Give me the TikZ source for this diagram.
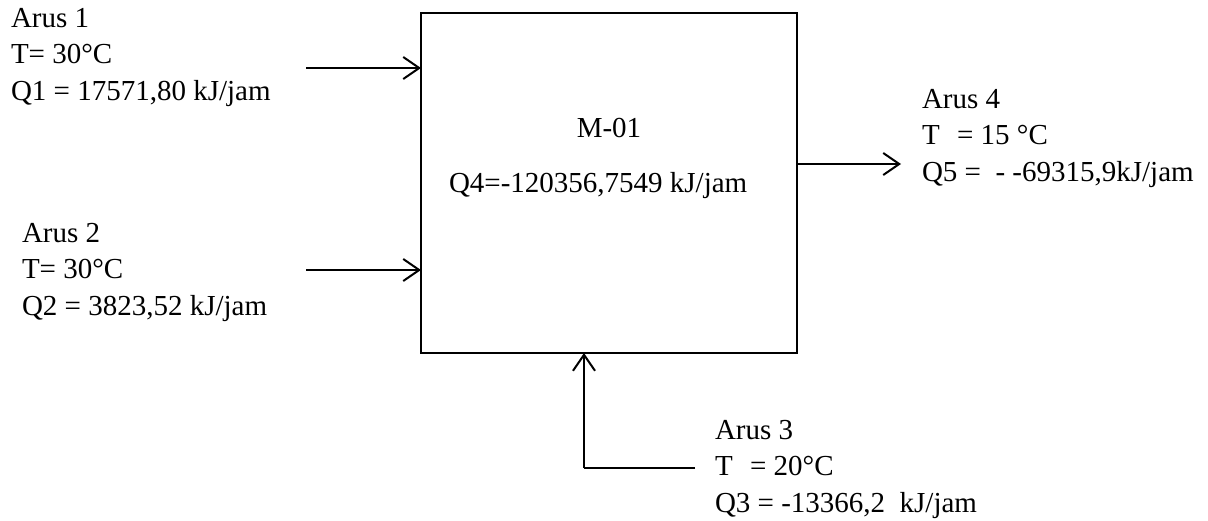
\documentclass[tikz,border=0pt]{standalone}
\usepackage{fontspec}
\setmainfont{Liberation Serif}
\usetikzlibrary{arrows.meta}
\tikzset{
  txt/.style={inner sep=0pt, outer sep=0pt, anchor=base west, font=\fontsize{29}{36.5}\selectfont},
  ctr/.style={inner sep=0pt, outer sep=0pt, anchor=base, font=\fontsize{29}{36.5}\selectfont},
  boxst/.style={draw, line width=2.5pt, inner sep=0pt, outer sep=0pt, minimum width=376pt, minimum height=340pt, anchor=north west},
  arr/.style={line width=2pt, -{Straight Barb[length=16pt,width=22pt,line width=2pt]}},
  ln/.style={line width=2pt}
}
\begin{document}
\begin{tikzpicture}[x=1pt,y=-1pt]
\useasboundingbox (0,0) rectangle (1208,520);
% main box
\node[boxst] (box) at (421,13) {};
\node[ctr] (m01) at (609,137) {M-01};
\node[txt] (q4) at (449,192) {Q4=-120356,7549 kJ/jam};
% Arus 1
\node[txt] (a1) at (11,27) {Arus 1};
\node[txt] (a1t) at (11,63.5) {T= 30°C};
\node[txt] (a1q) at (11,100) {Q1 = 17571,80 kJ/jam};
% Arus 2
\node[txt] (a2) at (22,242) {Arus 2};
\node[txt] (a2t) at (22,278.5) {T= 30°C};
\node[txt] (a2q) at (22,315) {Q2 = 3823,52 kJ/jam};
% Arus 4
\node[txt] (a4) at (922,108) {Arus 4};
\node[txt] (a4t) at (922,144.5) {T\hspace{0.6em}= 15 °C};
\node[txt] (a4q) at (922,181) {Q5 =\hspace{0.5em}- -69315,9kJ/jam};
% Arus 3
\node[txt] (a3) at (715,439) {Arus 3};
\node[txt] (a3t) at (715,475.5) {T\hspace{0.6em}= 20°C};
\node[txt] (a3q) at (715,512) {Q3 = -13366,2\hspace{0.5em}kJ/jam};
% connectors
\coordinate (s1) at (306,68);
\coordinate (s2) at (306,270);
\coordinate (o4) at (901,164);
\coordinate (s3) at (695,468);
\coordinate (s3c) at (584,468);
\draw[arr] (s1) -- (s1 -| box.west);
\draw[arr] (s2) -- (s2 -| box.west);
\draw[arr] (o4 -| box.east) -- (o4);
\draw[ln] (s3) -- (s3c);
\draw[arr] (s3c) -- (s3c |- box.south);
\end{tikzpicture}
\end{document}
